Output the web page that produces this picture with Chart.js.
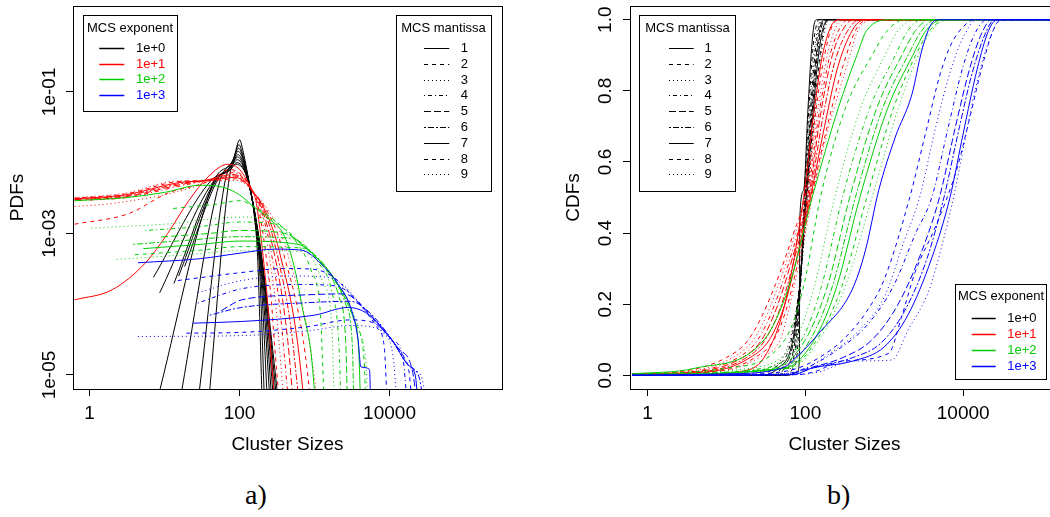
<!DOCTYPE html>
<html><head><meta charset="utf-8">
<script src="https://cdn.jsdelivr.net/npm/chart.js@4"></script>
<style>
html,body{margin:0;padding:0;background:#fff;overflow:hidden;width:1050px;height:517px;}
#wrap{position:relative;width:1050px;height:517px;overflow:hidden;background:#fff;}
canvas{position:absolute;top:0;}
#c1{left:0;} #c2{left:525px;}
.cap{position:absolute;top:478px;font-family:"Liberation Serif","DejaVu Serif",serif;font-size:28px;color:#000;line-height:1.2;}
</style></head><body>
<div id="wrap">
<canvas id="c1" width="525" height="470"></canvas>
<canvas id="c2" width="534" height="470"></canvas>
<div class="cap" style="left:245px">a)</div>
<div class="cap" style="left:827px">b)</div>
</div>
<script>
// ---------- labels / ticks ----------
const expLabels = ['1e+0','1e+1','1e+2','1e+3'];
const mantLabels = ['1','2','3','4','5','6','7','8','9'];
const xTickValues = [1, 100, 10000];
const xTickLabels = ['1','100','10000'];
const pdfTickValues = [1e-5, 1e-3, 1e-1];
const pdfTickLabels = ['1e-05','1e-03','1e-01'];
const cdfTickValues = [0, 0.2, 0.4, 0.6, 0.8, 1.0];
const cdfTickLabels = ['0.0','0.2','0.4','0.6','0.8','1.0'];

// ---------- PDFs: [cluster size, density] per mantissa, one array per exponent ----------
const pdfE0 = [
 [[38.6,4e-6],[70,4.5e-3],[88,1.4e-2],[100,2.1e-2],[112,1.4e-2],[131,6e-3],[155,2e-3],[175,4e-4],[200,4e-6]],
 [[27.8,4e-6],[63,5e-3],[85,1.2e-2],[98,1.8e-2],[112,1.2e-2],[135,5e-3],[160,1.6e-3],[185,3e-4],[215,4e-6]],
 [[15.8,4e-6],[54,5.3e-3],[82,1.1e-2],[97,1.6e-2],[113,1.1e-2],[138,4.5e-3],[165,1.3e-3],[195,2e-4],[235,4e-6]],
 [[7.8,4e-6],[46,5.6e-3],[80,1e-2],[96,1.45e-2],[114,1e-2],[140,4e-3],[170,1.1e-3],[205,1.5e-4],[255,4e-6]],
 [[18.5,3.4e-4],[50,5.5e-3],[80,9.5e-3],[95,1.3e-2],[115,9e-3],[142,3.6e-3],[175,9e-4],[215,1.2e-4],[270,4e-6]],
 [[15.4,2.5e-4],[48,5.5e-3],[78,9e-3],[94,1.2e-2],[116,8.5e-3],[145,3.3e-3],[180,8e-4],[225,1e-4],[285,4e-6]],
 [[13.3,1.96e-4],[46,5.4e-3],[76,8.5e-3],[93,1.1e-2],[117,8e-3],[148,3e-3],[185,7e-4],[235,8e-5],[300,4e-6]],
 [[8.6,1.45e-4],[44,5.3e-3],[75,8e-3],[92,1e-2],[118,7.5e-3],[150,2.8e-3],[190,6e-4],[245,6e-5],[315,4e-6]],
 [[7.1,2.4e-4],[41.7,5.6e-3],[74,7.8e-3],[90,9.5e-3],[120,7e-3],[152,2.6e-3],[195,5e-4],[255,5e-5],[330,4e-6]]
];
const pdfE1 = [
 [[0.63,1.15e-4],[2,1.6e-4],[5.5,3.8e-4],[11,1e-3],[21,2.9e-3],[38,6.3e-3],[70,9.5e-3],[100,8e-3],[140,4.5e-3],[165,2.9e-3],[190,1e-3],[213,3.4e-4],[235,1.15e-4],[255,3e-5],[295,4e-6]],
 [[0.63,1.35e-3],[3.3,1.9e-3],[11,3.7e-3],[38,5.4e-3],[75,8e-3],[110,6.5e-3],[140,4.5e-3],[170,2.9e-3],[205,1e-3],[235,3.4e-4],[265,1.15e-4],[290,3e-5],[340,4e-6]],
 [[0.63,2.4e-3],[2,2.65e-3],[21,4.3e-3],[50,6.2e-3],[80,7.5e-3],[115,6e-3],[145,4.2e-3],[173,2.9e-3],[220,1e-3],[260,3.4e-4],[300,1.15e-4],[335,3e-5],[390,4e-6]],
 [[0.63,2.9e-3],[3,3.2e-3],[15,4.6e-3],[40,5.8e-3],[80,7.2e-3],[118,5.8e-3],[150,4e-3],[176,2.9e-3],[235,1e-3],[285,3.4e-4],[335,1.15e-4],[380,3e-5],[450,4e-6]],
 [[0.63,3e-3],[3,3.3e-3],[15,4.8e-3],[40,5.8e-3],[82,6.8e-3],[120,5.5e-3],[150,3.9e-3],[180,2.9e-3],[250,1e-3],[315,3.4e-4],[375,1.15e-4],[440,3e-5],[520,4e-6]],
 [[0.63,3.05e-3],[3,3.4e-3],[15,5e-3],[40,5.7e-3],[84,6.5e-3],[122,5.2e-3],[152,3.8e-3],[184,2.9e-3],[270,1e-3],[345,3.4e-4],[425,1.15e-4],[510,3e-5],[620,4e-6]],
 [[0.63,3.1e-3],[3,3.5e-3],[15,5.2e-3],[40,5.6e-3],[86,6.2e-3],[125,5e-3],[155,3.7e-3],[187,2.9e-3],[290,1e-3],[380,3.4e-4],[480,1.15e-4],[590,3e-5],[730,4e-6]],
 [[0.63,3.15e-3],[3,3.6e-3],[15,5.4e-3],[40,5.6e-3],[88,5.9e-3],[128,4.8e-3],[158,3.6e-3],[191,2.9e-3],[320,1e-3],[430,3.4e-4],[560,1.15e-4],[710,3e-5],[900,4e-6]],
 [[0.63,3.2e-3],[3,3.7e-3],[15,5.5e-3],[40,5.5e-3],[90,5.6e-3],[130,4.6e-3],[160,3.5e-3],[195,2.9e-3],[355,1e-3],[490,3.4e-4],[660,1.15e-4],[850,3e-5],[1100,4e-6]]
];
const pdfE2 = [
 [[0.63,2.9e-3],[3,3.2e-3],[10,3.8e-3],[30,4.8e-3],[60,4.5e-3],[100,3.5e-3],[160,2.3e-3],[250,1.6e-3],[400,9e-4],[550,3e-4],[700,8e-5],[890,2.2e-5],[1030,4e-6]],
 [[13,2.25e-3],[50,2.6e-3],[100,2.9e-3],[160,2.35e-3],[300,1.5e-3],[600,7e-4],[900,3e-4],[1200,7e-5],[1340,4e-6]],
 [[1.06,1.19e-3],[10,1.35e-3],[107,1.7e-3],[250,1.6e-3],[490,9e-4],[820,5.5e-4],[1300,2e-4],[1700,5e-5],[1830,4e-6]],
 [[5.5,1.1e-3],[30,1.25e-3],[100,1.45e-3],[300,1.35e-3],[600,8e-4],[1100,4e-4],[1700,1.5e-4],[2100,3e-5],[2250,4e-6]],
 [[9,8.9e-4],[40,1e-3],[100,1.1e-3],[400,1e-3],[820,5.8e-4],[1350,3.3e-4],[2100,1.3e-4],[2600,3e-5],[2750,4e-6]],
 [[3.8,7e-4],[20,8e-4],[100,9e-4],[500,8.5e-4],[1000,5e-4],[1600,2.8e-4],[2600,1e-4],[3200,2.5e-5],[3330,4e-6]],
 [[5.2,6.1e-4],[30,7e-4],[100,7.8e-4],[600,7e-4],[1200,4e-4],[2000,2e-4],[3200,7e-5],[3900,2e-5],[4100,4e-6]],
 [[4,5e-4],[30,5.8e-4],[100,6.5e-4],[700,6.2e-4],[1350,3.4e-4],[2300,1.5e-4],[3600,5e-5],[4600,1.5e-5],[4800,4e-6]],
 [[2.3,4.3e-4],[20,5e-4],[100,5.7e-4],[800,5.5e-4],[1500,3e-4],[2500,1.3e-4],[4000,4e-5],[4900,1.2e-5],[5100,4e-6]]
];
const pdfE3 = [
 [[4.4,3.85e-4],[30,4.4e-4],[106,5.3e-4],[294,6e-4],[670,5.8e-4],[1230,3.7e-4],[2040,1.95e-4],[3100,8.4e-5],[3800,3.2e-5],[4150,1.3e-5],[5400,1.2e-5],[5600,4e-6]],
 [[15,2.16e-4],[106,2.8e-4],[400,3.2e-4],[1000,3.1e-4],[1800,2.4e-4],[3000,1.4e-4],[5100,7.3e-5],[7000,4.5e-5],[8500,2.5e-5],[9300,4e-6]],
 [[27.7,1.45e-4],[106,2.16e-4],[500,2.5e-4],[1500,2.4e-4],[2500,1.8e-4],[5100,7.3e-5],[8000,4e-5],[11000,2e-5],[12600,4e-6]],
 [[27.7,1.04e-4],[106,1.65e-4],[600,1.9e-4],[2000,1.8e-4],[3500,1.2e-4],[6000,6.2e-5],[10600,3.2e-5],[15000,1.8e-5],[17200,4e-6]],
 [[57,8.1e-5],[106,1.15e-4],[700,1.35e-4],[2500,1.4e-4],[4500,9e-5],[8000,4.5e-5],[13000,2.4e-5],[20000,1.2e-5],[23300,4e-6]],
 [[40,7e-5],[106,9e-5],[800,1.05e-4],[3000,1.1e-4],[5500,7.5e-5],[10000,3.5e-5],[17500,1.4e-5],[25000,9e-6],[28600,4e-6]],
 [[23.8,5.4e-5],[106,5.7e-5],[1000,7e-5],[2800,9e-5],[5100,7.3e-5],[10600,3.2e-5],[17500,1.4e-5],[22000,1e-5],[24000,4e-6]],
 [[19.5,3.9e-5],[106,4e-5],[800,4.8e-5],[3000,6e-5],[6000,5.5e-5],[11000,3e-5],[16000,1.7e-5],[18000,1.2e-5],[20000,4e-6]],
 [[4.4,3.5e-5],[106,3.6e-5],[800,4.2e-5],[3000,5e-5],[7000,4.5e-5],[12000,2.6e-5],[20000,1.2e-5],[26000,1e-5],[31700,4e-6]]
];

// ---------- CDFs: [cluster size, cumulative probability] ----------
const cdfE0 = [
 [[0.64,0],[60,0],[80,0.01],[84,0.05],[85,0.44],[95,0.52],[108,0.75],[120,0.92],[130,0.99],[140,1],[2e5,1]],
 [[0.64,0],[50,0],[70,0.02],[80,0.08],[88,0.3],[97,0.5],[110,0.74],[125,0.92],[140,0.99],[150,1],[2e5,1]],
 [[0.64,0],[45,0],[65,0.02],[78,0.09],[88,0.28],[98,0.5],[112,0.73],[128,0.9],[145,0.98],[160,1],[2e5,1]],
 [[0.64,0],[40,0],[60,0.02],[75,0.08],[88,0.27],[99,0.5],[114,0.72],[132,0.9],[150,0.98],[170,1],[2e5,1]],
 [[0.64,0],[35,0],[55,0.02],[72,0.08],[86,0.25],[100,0.5],[116,0.71],[136,0.89],[155,0.98],[175,1],[2e5,1]],
 [[0.64,0],[30,0],[50,0.02],[70,0.09],[85,0.25],[101,0.5],[118,0.7],[140,0.89],[160,0.98],[185,1],[2e5,1]],
 [[0.64,0],[25,0],[45,0.02],[68,0.09],[84,0.24],[103,0.5],[120,0.69],[145,0.89],[165,0.97],[195,1],[2e5,1]],
 [[0.64,0],[20,0],[40,0.02],[65,0.09],[83,0.24],[105,0.5],[122,0.68],[150,0.88],[170,0.97],[200,1],[2e5,1]],
 [[0.64,0],[15,0],[35,0.02],[62,0.09],[82,0.23],[108,0.5],[125,0.68],[155,0.88],[175,0.97],[205,1],[2e5,1]]
];
const cdfE1 = [
 [[0.64,0],[5,0.001],[15,0.01],[30,0.05],[55,0.2],[95,0.5],[130,0.75],[165,0.9],[210,0.98],[260,1],[2e5,1]],
 [[0.64,0.004],[2.5,0.01],[10,0.05],[19,0.1],[33,0.2],[71,0.4],[105,0.53],[141,0.77],[175,0.9],[228,0.99],[280,1],[2e5,1]],
 [[0.64,0.004],[3,0.01],[12,0.05],[22,0.1],[37,0.2],[75,0.4],[102,0.5],[145,0.75],[190,0.9],[260,0.99],[330,1],[2e5,1]],
 [[0.64,0.004],[3.5,0.01],[14,0.05],[25,0.1],[41,0.2],[80,0.4],[106,0.5],[150,0.74],[205,0.9],[300,0.99],[380,1],[2e5,1]],
 [[0.64,0.004],[4,0.01],[16,0.05],[28,0.1],[45,0.2],[84,0.4],[110,0.5],[155,0.73],[220,0.9],[340,0.99],[430,1],[2e5,1]],
 [[0.64,0.003],[5,0.01],[18,0.05],[31,0.1],[50,0.2],[88,0.4],[113,0.5],[165,0.72],[235,0.88],[370,0.98],[500,1],[2e5,1]],
 [[0.64,0.003],[6,0.01],[20,0.05],[35,0.1],[55,0.2],[92,0.4],[116,0.5],[175,0.7],[260,0.87],[420,0.98],[580,1],[2e5,1]],
 [[0.64,0.003],[7,0.01],[23,0.05],[40,0.1],[60,0.2],[96,0.4],[119,0.5],[185,0.69],[300,0.87],[460,0.98],[700,1],[2e5,1]],
 [[0.64,0.003],[8,0.01],[26,0.05],[48,0.1],[64,0.2],[100,0.4],[122,0.5],[188,0.68],[336,0.87],[490,0.98],[800,1],[2e5,1]]
];
const cdfE2 = [
 [[0.64,0.004],[4,0.02],[30,0.1],[62,0.25],[122,0.5],[260,0.75],[450,0.9],[600,0.97],[1200,1],[2e5,1]],
 [[0.64,0.003],[10,0.02],[55,0.1],[95,0.25],[155,0.5],[320,0.75],[700,0.9],[1100,0.97],[1800,1],[2e5,1]],
 [[0.64,0.003],[20,0.02],[75,0.1],[130,0.25],[235,0.5],[500,0.75],[1020,0.9],[1500,0.97],[2500,1],[2e5,1]],
 [[0.64,0.002],[30,0.02],[90,0.1],[160,0.25],[295,0.5],[650,0.75],[1380,0.9],[2000,0.97],[3000,1],[2e5,1]],
 [[0.64,0.002],[40,0.02],[100,0.1],[190,0.25],[365,0.5],[800,0.75],[1670,0.9],[2500,0.97],[3800,1],[2e5,1]],
 [[0.64,0.002],[50,0.02],[115,0.1],[220,0.25],[430,0.5],[950,0.75],[2000,0.9],[3000,0.97],[4500,1],[2e5,1]],
 [[0.64,0.001],[55,0.02],[130,0.1],[250,0.25],[490,0.5],[1100,0.75],[2300,0.9],[3400,0.97],[5500,1],[2e5,1]],
 [[0.64,0.001],[60,0.02],[140,0.1],[290,0.25],[600,0.5],[1300,0.75],[2500,0.9],[3800,0.97],[6000,1],[2e5,1]],
 [[0.64,0.001],[65,0.02],[150,0.1],[320,0.25],[700,0.5],[1500,0.75],[2700,0.9],[4000,0.97],[6500,1],[2e5,1]]
];
const cdfE3 = [
 [[0.64,0],[10,0.004],[50,0.02],[85,0.06],[148,0.118],[390,0.24],[575,0.35],[850,0.52],[1380,0.67],[2240,0.79],[3000,0.915],[4000,0.99],[5000,1],[2e5,1]],
 [[0.64,0],[20,0.003],[80,0.02],[150,0.05],[300,0.1],[600,0.18],[1000,0.27],[2100,0.5],[3500,0.7],[5000,0.84],[7000,0.93],[10000,0.98],[14000,1],[2e5,1]],
 [[0.64,0],[40,0.003],[90,0.015],[200,0.06],[500,0.13],[1000,0.22],[1800,0.38],[2800,0.5],[4500,0.7],[7000,0.86],[10000,0.95],[15000,1],[2e5,1]],
 [[0.64,0],[50,0.003],[100,0.02],[250,0.07],[600,0.14],[1300,0.25],[2500,0.4],[4000,0.5],[6500,0.7],[10000,0.87],[14000,0.96],[20000,1],[2e5,1]],
 [[0.64,0],[60,0.003],[110,0.02],[300,0.05],[700,0.1],[1500,0.2],[3000,0.35],[5000,0.5],[8000,0.7],[12000,0.86],[17000,0.96],[23000,1],[2e5,1]],
 [[0.64,0],[70,0.002],[120,0.02],[400,0.05],[900,0.09],[1800,0.18],[3500,0.33],[5700,0.5],[9000,0.7],[13000,0.85],[19000,0.96],[25000,1],[2e5,1]],
 [[0.64,0],[70,0.002],[120,0.02],[400,0.04],[1000,0.08],[2000,0.17],[4000,0.33],[6800,0.5],[10000,0.68],[15000,0.86],[21000,0.97],[27000,1],[2e5,1]],
 [[0.64,0],[80,0.002],[130,0.01],[300,0.04],[1140,0.062],[1660,0.165],[2460,0.29],[4500,0.42],[8300,0.58],[12000,0.72],[17000,0.86],[24000,0.97],[30000,1],[2e5,1]],
 [[0.64,0],[80,0.002],[150,0.01],[400,0.04],[1250,0.043],[2000,0.127],[3700,0.24],[5300,0.36],[7900,0.52],[9100,0.59],[14800,0.82],[22000,0.95],[30000,1],[2e5,1]]
];

// ---------- styles ----------
const expColors = ['#000000','#FF0000','#00CD00','#0000FF'];
const mantDashes = [[],[4,4],[1,3],[1,3,4,3],[7,3],[2,2,6,2],[],[4,4],[1,3]];
const FONT = '"Liberation Sans", Arial, Helvetica, sans-serif';

function buildSets(groups, solidFirstGroup){
  const sets = []; let idx = 0;
  groups.forEach((g, e) => g.forEach((curve, m) => {
    sets.push({
      label: expLabels[e] + ' / ' + mantLabels[m],
      data: curve.map(p => ({x: p[0], y: p[1]})),
      borderColor: expColors[e], backgroundColor: expColors[e],
      borderWidth: 1, borderDash: (solidFirstGroup && e === 0) ? [] : mantDashes[m],
      pointRadius: 0, pointHoverRadius: 0, fill: false,
      cubicInterpolationMode: 'monotone',
      order: -idx
    });
    idx++;
  }));
  return sets;
}

function drawLegend(ctx, L){
  ctx.save();
  ctx.fillStyle = '#fff';
  ctx.fillRect(L.x, L.y, L.w, L.h);
  ctx.setLineDash([]); ctx.lineWidth = 1; ctx.strokeStyle = '#000';
  ctx.strokeRect(Math.round(L.x) + 0.5, Math.round(L.y) + 0.5, Math.round(L.w), Math.round(L.h));
  ctx.font = '13px ' + FONT;
  ctx.textBaseline = 'middle'; ctx.textAlign = 'center'; ctx.fillStyle = '#000';
  ctx.fillText(L.title, L.x + L.w / 2, L.titleY);
  L.labels.forEach((lab, i) => {
    const y = Math.round(L.rowY + i * L.step) + 0.5;
    ctx.strokeStyle = L.lineColors[i];
    ctx.lineWidth = L.lineWidth || 1;
    ctx.setLineDash(L.dashes[i]);
    ctx.beginPath(); ctx.moveTo(L.lx1, y); ctx.lineTo(L.lx2, y); ctx.stroke();
    ctx.setLineDash([]);
    ctx.fillStyle = L.textColors[i]; ctx.textAlign = 'left';
    ctx.fillText(lab, L.tx, y);
  });
  ctx.restore();
}

const decor = {
  id: 'decor',
  afterDraw(chart, args, opts){
    const ctx = chart.ctx, a = chart.chartArea;
    ctx.save();
    ctx.setLineDash([]); ctx.strokeStyle = '#000'; ctx.lineWidth = 1;
    ctx.strokeRect(Math.round(a.left) + 0.5, Math.round(a.top) + 0.5, Math.round(a.right - a.left), Math.round(a.bottom - a.top));
    const ys = chart.scales.y;
    ctx.fillStyle = '#000'; ctx.font = '19px ' + FONT;
    ctx.textAlign = 'center'; ctx.textBaseline = 'middle';
    opts.tickValues.forEach((v, i) => {
      const py = ys.getPixelForValue(v);
      ctx.save(); ctx.translate(opts.labelX, py); ctx.rotate(-Math.PI / 2);
      ctx.fillText(opts.tickLabels[i], 0, 0); ctx.restore();
    });
    ctx.restore();
    opts.legends.forEach(L => drawLegend(ctx, L));
  }
};

function makeConfig(c){
  return {
    type: 'line',
    data: {datasets: c.sets},
    plugins: [decor],
    options: {
      responsive: false, animation: false, devicePixelRatio: 1,
      events: [],
      layout: {padding: {left: 0, right: c.padRight, top: 6, bottom: 0}},
      plugins: {
        legend: {display: false}, tooltip: {enabled: false},
        decor: {tickValues: c.yTicks, tickLabels: c.yLabels, labelX: c.labelX, legends: c.legends}
      },
      scales: {
        x: {
          type: 'logarithmic', position: 'bottom', min: c.xmin, max: c.xmax,
          afterBuildTicks: s => { s.ticks = xTickValues.map(v => ({value: v})); },
          afterFit: s => { s.height = 81; },
          ticks: {autoSkip: false, maxRotation: 0, minRotation: 0, padding: 6.5, color: '#000',
                  font: {family: FONT, size: 19}, callback: (v, i) => xTickLabels[i]},
          grid: {display: true, drawOnChartArea: false, drawTicks: true, tickLength: 7, color: '#000', lineWidth: 1},
          border: {display: false},
          title: {display: true, text: 'Cluster Sizes', color: '#000', font: {family: FONT, size: 19},
                  padding: {top: 0, bottom: 13.6}}
        },
        y: {
          type: c.yType, position: 'left', min: c.ymin, max: c.ymax,
          afterBuildTicks: s => { s.ticks = c.yTicks.map(v => ({value: v})); },
          afterFit: s => { s.width = c.yWidth; },
          ticks: {display: false},
          grid: {display: true, drawOnChartArea: false, drawTicks: true, tickLength: 7, color: '#000', lineWidth: 1},
          border: {display: false},
          title: {display: true, text: c.yTitle, color: '#000', font: {family: FONT, size: 19},
                  padding: {top: c.yTitlePad, bottom: 0}}
        }
      }
    }
  };
}

const black9 = mantLabels.map(() => '#000000');
const solid4 = expLabels.map(() => []);

new Chart(document.getElementById('c1'), makeConfig({
  sets: buildSets([pdfE0, pdfE1, pdfE2, pdfE3], true),
  padRight: 23, yWidth: 73, yTitle: 'PDFs', yTitlePad: 6.1,
  xmin: Math.pow(10, -0.199), xmax: Math.pow(10, 5.50),
  yType: 'logarithmic', ymin: Math.pow(10, -5.198), ymax: Math.pow(10, 0.213),
  yTicks: pdfTickValues, yLabels: pdfTickLabels, labelX: 50,
  legends: [
    {x: 83, y: 15, w: 94, h: 96, title: 'MCS exponent', titleY: 28.3, lx1: 99.3, lx2: 124.3, tx: 136, lineWidth: 1.5,
     rowY: 47.7, step: 15.8, labels: expLabels, lineColors: expColors, textColors: expColors, dashes: solid4},
    {x: 396, y: 15, w: 95, h: 176, title: 'MCS mantissa', titleY: 28.3, lx1: 424, lx2: 449.3, tx: 460.7,
     rowY: 48, step: 15.8, labels: mantLabels, lineColors: black9, textColors: black9, dashes: mantDashes}
  ]
}));

new Chart(document.getElementById('c2'), makeConfig({
  sets: buildSets([cdfE0, cdfE1, cdfE2, cdfE3], false),
  padRight: 0, yWidth: 105, yTitle: 'CDFs', yTitlePad: 37.8,
  xmin: Math.pow(10, -0.193), xmax: Math.pow(10, 5.214),
  yType: 'linear', ymin: -0.0385, ymax: 1.0385,
  yTicks: cdfTickValues, yLabels: cdfTickLabels, labelX: 80.3,
  legends: [
    {x: 114.3, y: 15, w: 96.4, h: 176, title: 'MCS mantissa', titleY: 28.3, lx1: 144, lx2: 168.7, tx: 179.4,
     rowY: 48, step: 15.8, labels: mantLabels, lineColors: black9, textColors: black9, dashes: mantDashes},
    {x: 430.3, y: 284.3, w: 91.4, h: 95, title: 'MCS exponent', titleY: 296.5, lx1: 446.7, lx2: 470.7, tx: 482.3, lineWidth: 1.5,
     rowY: 318.3, step: 15.8, labels: expLabels, lineColors: expColors, textColors: expColors, dashes: solid4}
  ]
}));
</script>
</body></html>
